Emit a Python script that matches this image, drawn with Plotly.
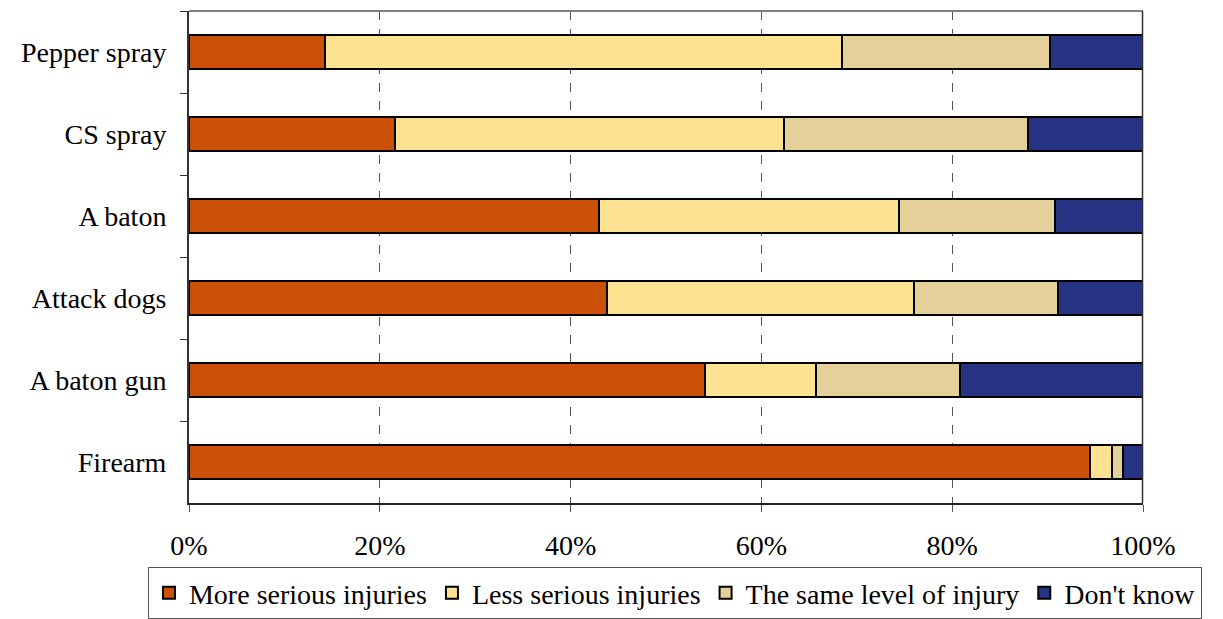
import plotly.graph_objects as go

categories = ["Pepper spray", "CS spray", "A baton", "Attack dogs", "A baton gun", "Firearm"]
series_names = ["More serious injuries", "Less serious injuries", "The same level of injury", "Don't know"]
more_serious = [14.3, 21.6, 43.0, 43.8, 54.1, 94.4]
less_serious = [54.1, 40.8, 31.4, 32.2, 11.6, 2.4]
same_level = [21.9, 25.5, 16.4, 15.1, 15.1, 1.1]
dont_know = [9.7, 12.1, 9.2, 8.9, 19.2, 2.1]
colors = ["#CC5005", "#FDE291", "#E5D09A", "#263483"]
x_tickvals = [0, 20, 40, 60, 80, 100]
x_ticktext = ["0%", "20%", "40%", "60%", "80%", "100%"]

FONT = "Liberation Serif"

fig = go.Figure()
for name, vals, col in zip(series_names, [more_serious, less_serious, same_level, dont_know], colors):
    fig.add_trace(go.Bar(
        y=categories, x=vals, name=name, orientation="h",
        marker=dict(color=col, line=dict(color="black", width=2)),
    ))

# page body has an 8px margin, so the figure is 8px smaller and shifted
fig.update_layout(
    barmode="stack",
    bargap=0.58,
    width=1215, height=611,
    margin=dict(l=181, r=80, t=3, b=116, autoexpand=False),
    paper_bgcolor="white", plot_bgcolor="white",
    font=dict(family=FONT, size=28, color="black"),
    showlegend=True,
    legend=dict(
        orientation="h", x=-0.043, xanchor="left", y=-0.13, yanchor="top",
        bordercolor="#555555", borderwidth=1,
        font=dict(family=FONT, size=28, color="black"),
        itemwidth=30, traceorder="normal",
    ),
    shapes=[
        dict(type="line", xref="paper", yref="paper", x0=0, x1=1, y0=1, y1=1,
             line=dict(color="#808080", width=2), layer="above"),
        dict(type="line", xref="paper", yref="paper", x0=0.9995, x1=0.9995, y0=0, y1=1,
             line=dict(color="#333333", width=1.5), layer="above"),
    ],
)
fig.update_xaxes(
    range=[0, 100], tickvals=x_tickvals, ticktext=x_ticktext,
    showgrid=True, gridcolor="#555555", griddash="dash", gridwidth=1,
    showline=True, linecolor="#222222", linewidth=1.5, mirror=False,
    ticks="outside", ticklen=7, tickcolor="#555555",
    ticklabelstandoff=10, zeroline=False,
)
fig.update_yaxes(
    autorange="reversed", showgrid=False,
    showline=True, linecolor="#333333", linewidth=2, mirror=False,
    ticks="outside", ticklen=7, tickcolor="#333333", tickson="boundaries",
    ticklabelstandoff=15,
)

fig.write_html("out.html")
